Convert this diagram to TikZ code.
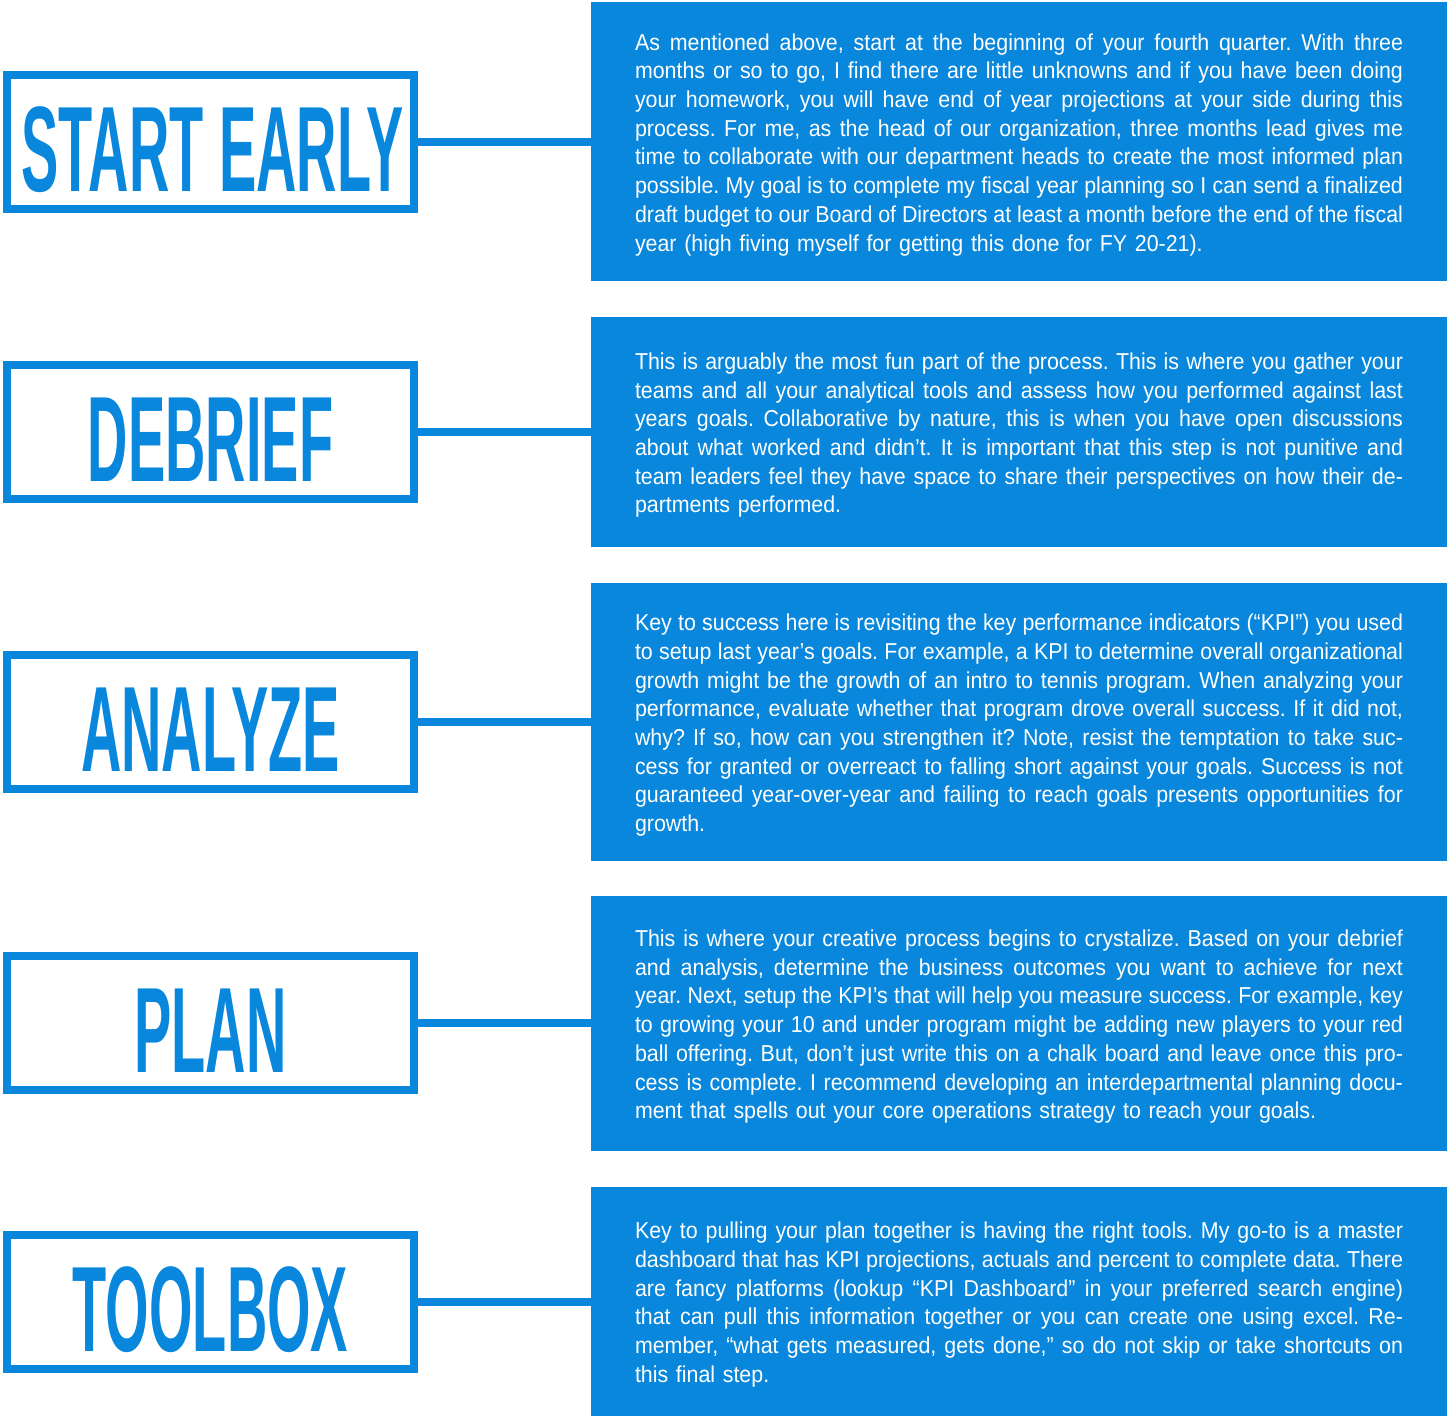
\documentclass[tikz,border=0pt]{standalone}
\usepackage{fontspec}
\newfontfamily\bodyfont{Liberation Sans}[FakeStretch=0.93]
\newfontfamily\headfont{Liberation Sans}[FakeStretch=0.46]
\definecolor{brand}{RGB}{8,135,220}
\setlength{\parindent}{0pt}
% one justified line of a panel text: spaces stretch to fill the column
\newcommand\jl[1]{\leavevmode\hbox to 768pt{%
  \spaceskip=\fontdimen2\font plus 4\fontdimen2\font minus 0.45\fontdimen2\font
  #1}\par}
% the first line carries a little extra head room
\newcommand\jlf[1]{\jl{\rule{0pt}{23pt}#1}}

\tikzset{
  stepbox/.style={draw=brand, line width=8pt, minimum width=407pt,
    minimum height=134pt, inner sep=0pt},
  steptitle/.style={text=brand, inner sep=0pt, anchor=base,
    font=\headfont\bfseries\fontsize{121.5}{121.5}\selectfont},
  panel/.style={fill=brand, text=white, text width=768pt, inner xsep=44pt,
    inner ysep=0pt, minimum width=856pt,
    font=\bodyfont\fontsize{23}{28.7}\selectfont\frenchspacing},
  link/.style={draw=brand, line width=8pt}
}

\begin{document}
\begin{tikzpicture}[x=1pt,y=-1pt]
\useasboundingbox (0,0) rectangle (1453,1416);

% ---- Start early
\node[stepbox] (b1) at (210.5,142) {};
\node[steptitle] (t1) at ([xshift=2pt,yshift=-49pt]b1.center) {START EARLY};
\node[panel, minimum height=279pt] (p1) at (1019,141.5) {%
\jlf{As mentioned above, start at the beginning of your fourth quarter. With three}
\jl{months or so to go, I find there are little unknowns and if you have been doing}
\jl{your homework, you will have end of year projections at your side during this}
\jl{process. For me, as the head of our organization, three months lead gives me}
\jl{time to collaborate with our department heads to create the most informed plan}
\jl{possible. My goal is to complete my fiscal year planning so I can send a finalized}
\jl{draft budget to our Board of Directors at least a month before the end of the fiscal}
year (high fiving myself for getting this done for FY 20-21).};
\draw[link] (b1.east) -- (b1.east -| p1.west);

% ---- Debrief
\node[stepbox] (b2) at (210.5,432) {};
\node[steptitle] (t2) at ([yshift=-49pt]b2.center) {DEBRIEF};
\node[panel, minimum height=230pt] (p2) at (1019,432) {%
\jlf{This is arguably the most fun part of the process. This is where you gather your}
\jl{teams and all your analytical tools and assess how you performed against last}
\jl{years goals. Collaborative by nature, this is when you have open discussions}
\jl{about what worked and didn’t. It is important that this step is not punitive and}
\jl{team leaders feel they have space to share their perspectives on how their de-}
partments performed.};
\draw[link] (b2.east) -- (b2.east -| p2.west);

% ---- Analyze
\node[stepbox] (b3) at (210.5,722) {};
\node[steptitle] (t3) at ([yshift=-49pt]b3.center) {ANALYZE};
\node[panel, minimum height=278pt] (p3) at (1019,722) {%
\jlf{Key to success here is revisiting the key performance indicators (“KPI”) you used}
\jl{to setup last year’s goals. For example, a KPI to determine overall organizational}
\jl{growth might be the growth of an intro to tennis program. When analyzing your}
\jl{performance, evaluate whether that program drove overall success. If it did not,}
\jl{why? If so, how can you strengthen it? Note, resist the temptation to take suc-}
\jl{cess for granted or overreact to falling short against your goals. Success is not}
\jl{guaranteed year-over-year and failing to reach goals presents opportunities for}
growth.};
\draw[link] (b3.east) -- (b3.east -| p3.west);

% ---- Plan
\node[stepbox] (b4) at (210.5,1023) {};
\node[steptitle] (t4) at ([yshift=-49pt]b4.center) {PLAN};
\node[panel, minimum height=255pt] (p4) at (1019,1023.5) {%
\jlf{This is where your creative process begins to crystalize. Based on your debrief}
\jl{and analysis, determine the business outcomes you want to achieve for next}
\jl{year. Next, setup the KPI’s that will help you measure success. For example, key}
\jl{to growing your 10 and under program might be adding new players to your red}
\jl{ball offering. But, don’t just write this on a chalk board and leave once this pro-}
\jl{cess is complete. I recommend developing an interdepartmental planning docu-}
ment that spells out your core operations strategy to reach your goals.};
\draw[link] (b4.east) -- (b4.east -| p4.west);

% ---- Toolbox
\node[stepbox] (b5) at (210.5,1302) {};
\node[steptitle] (t5) at ([yshift=-49pt]b5.center) {TOOLBOX};
\node[panel, minimum height=229pt] (p5) at (1019,1301.5) {%
\jlf{Key to pulling your plan together is having the right tools. My go-to is a master}
\jl{dashboard that has KPI projections, actuals and percent to complete data. There}
\jl{are fancy platforms (lookup “KPI Dashboard” in your preferred search engine)}
\jl{that can pull this information together or you can create one using excel. Re-}
\jl{member, “what gets measured, gets done,” so do not skip or take shortcuts on}
this final step.};
\draw[link] (b5.east) -- (b5.east -| p5.west);
\end{tikzpicture}
\end{document}
